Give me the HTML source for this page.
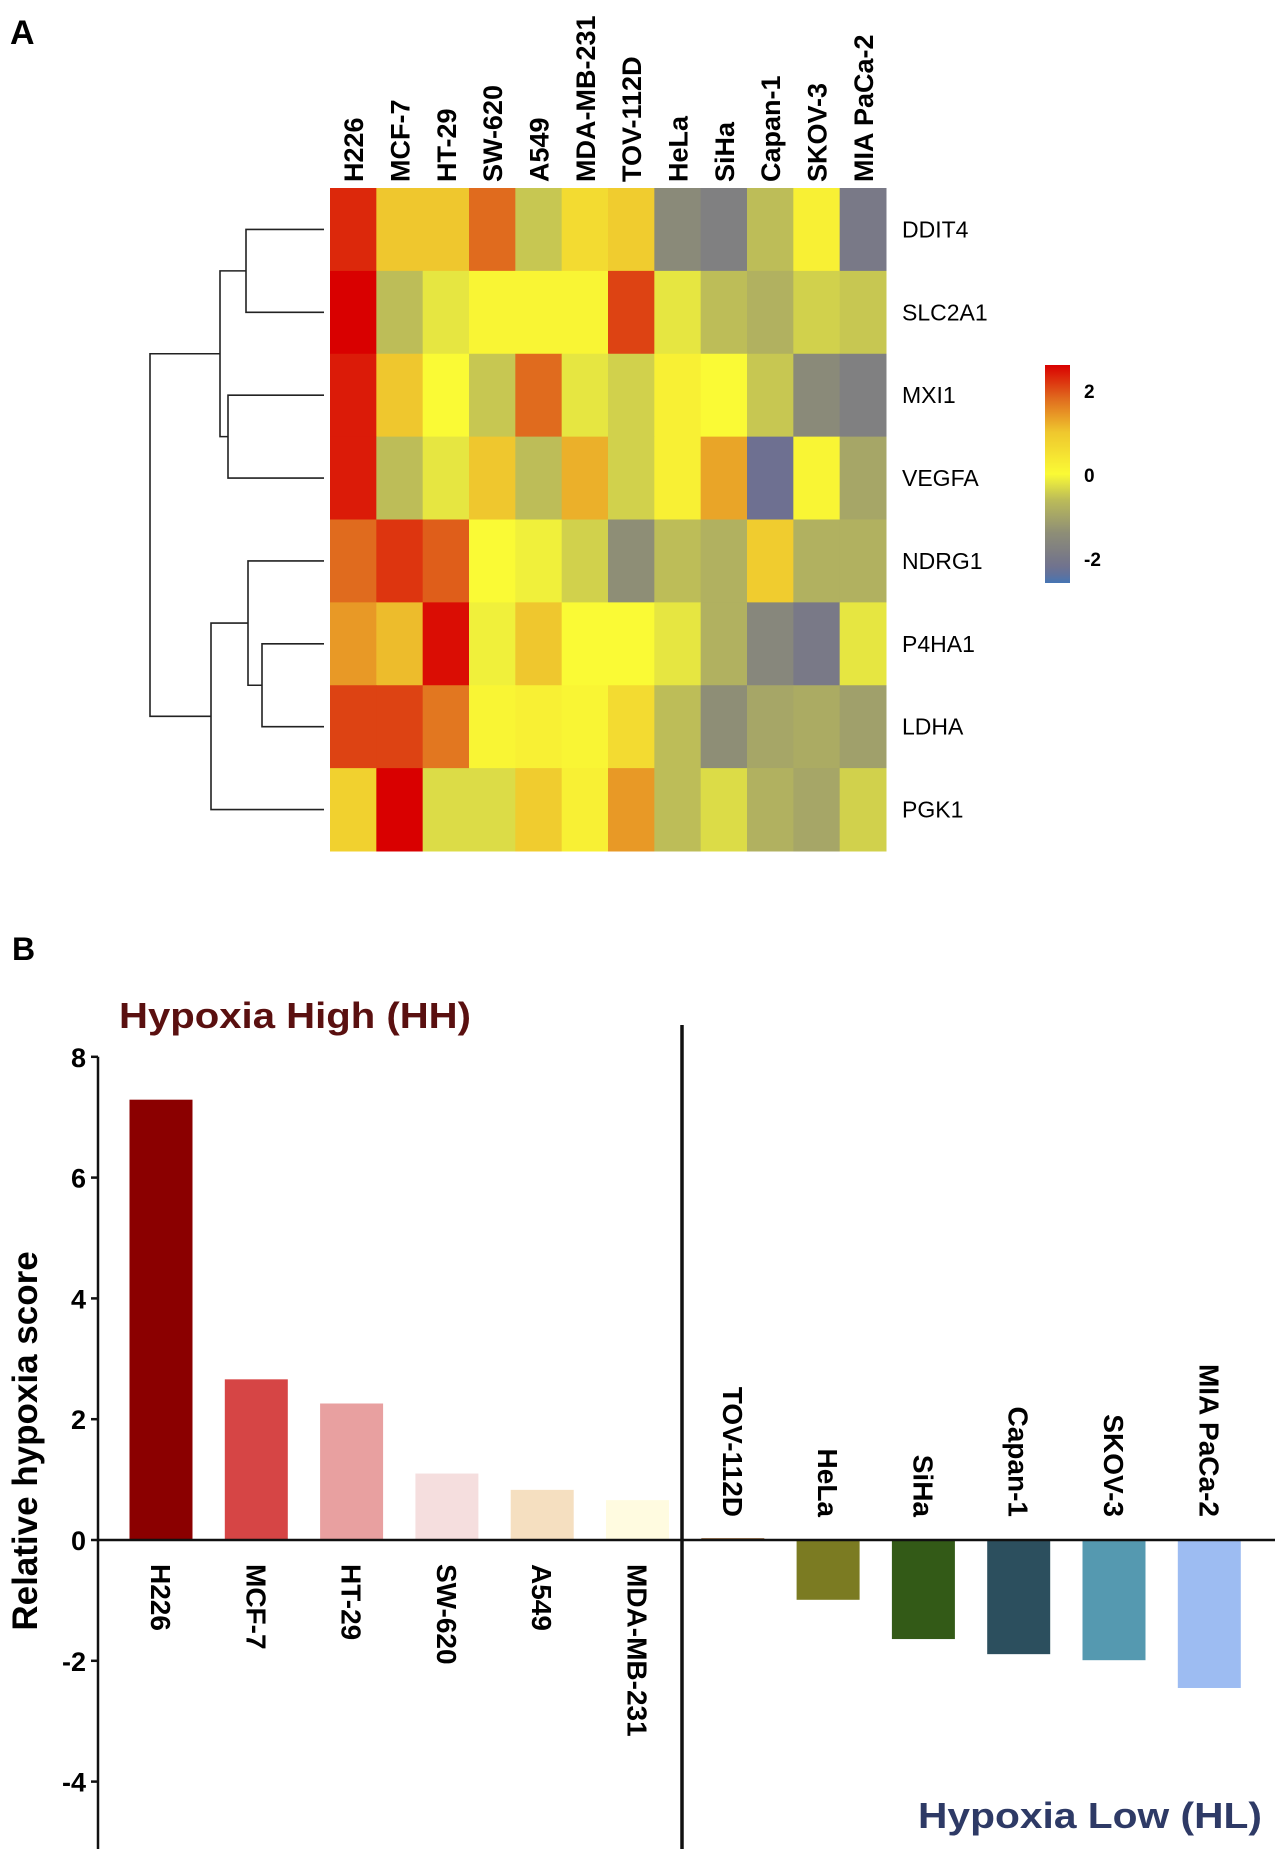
<!DOCTYPE html>
<html><head><meta charset="utf-8"><style>
html,body{margin:0;padding:0;background:#fff;}
svg{display:block;font-family:"Liberation Sans",Arial,sans-serif;}
</style></head><body>
<svg id="fig" width="1279" height="1849" viewBox="0 0 1279 1849">
<text x="10" y="44" font-size="34" font-weight="bold">A</text>
<g id="heat"></g>
<g id="dendro" stroke="#222" stroke-width="1.6" fill="none"></g>
<g id="cbar"></g>
<text x="12" y="960" font-size="32" font-weight="bold">B</text>
<g id="bars"></g>
</svg>
<script>
const cellLines=["H226","MCF-7","HT-29","SW-620","A549","MDA-MB-231","TOV-112D","HeLa","SiHa","Capan-1","SKOV-3","MIA PaCa-2"];
const genes=["DDIT4","SLC2A1","MXI1","VEGFA","NDRG1","P4HA1","LDHA","PGK1"];
const heatDDIT4=[2.3,1.0,1.0,1.8,-0.5,0.6,0.9,-1.5,-1.8,-0.6,0.2,-2.0];
const heatSLC2A1=[2.6,-0.6,-0.2,0.1,0.1,0.1,2.1,-0.2,-0.6,-0.8,-0.4,-0.5];
const heatMXI1=[2.4,1.0,0.0,-0.5,1.8,-0.2,-0.4,0.2,0.0,-0.5,-1.5,-1.8];
const heatVEGFA=[2.4,-0.6,-0.2,1.0,-0.6,1.2,-0.4,0.2,1.3,-2.3,0.1,-1.0];
const heatNDRG1=[1.8,2.2,1.9,0.0,-0.1,-0.4,-1.4,-0.6,-0.8,0.9,-0.8,-0.8];
const heatP4HA1=[1.4,1.1,2.5,-0.1,1.0,0.0,0.0,-0.2,-0.8,-1.6,-2.0,-0.2];
const heatLDHA=[2.1,2.1,1.7,0.1,0.2,0.1,0.6,-0.6,-1.4,-1.0,-0.9,-1.1];
const heatPGK1=[0.8,2.6,-0.3,-0.3,0.9,0.2,1.4,-0.6,-0.3,-0.8,-1.0,-0.4];
const heatRows=[heatDDIT4,heatSLC2A1,heatMXI1,heatVEGFA,heatNDRG1,heatP4HA1,heatLDHA,heatPGK1];
const colorTicks=[2,0,-2];
const barCats=["H226","MCF-7","HT-29","SW-620","A549","MDA-MB-231","TOV-112D","HeLa","SiHa","Capan-1","SKOV-3","MIA PaCa-2"];
const barValues=[7.29,2.66,2.26,1.10,0.83,0.66,0.03,-0.99,-1.64,-1.89,-1.99,-2.45];
const barColors=["#8b0000","#d64545","#e8a0a0","#f5dede","#f5dfc0","#fffbe0","#8b5a2b","#7b7b22","#335a17","#2c4f5e","#5599b0","#9dbcf2"];
const yTicks=[8,6,4,2,0,-2,-4];

const NS="http://www.w3.org/2000/svg";
function mk(tag,attrs,parent,txt){const e=document.createElementNS(NS,tag);for(const k in attrs)e.setAttribute(k,attrs[k]);if(txt!==undefined)e.textContent=txt;parent.appendChild(e);return e;}
const stops=[[-2.6,[69,117,180]],[-2.3,[110,112,145]],[-1.9,[124,124,132]],[-1.4,[142,142,118]],[-0.6,[189,189,88]],[0,[250,250,53]],[1,[239,199,46]],[1.8,[224,107,30]],[2.6,[217,0,0]]];
function col(v){if(v<=stops[0][0])return rgb(stops[0][1]);for(let i=1;i<stops.length;i++){if(v<=stops[i][0]){const a=stops[i-1],b=stops[i];const t=(v-a[0])/(b[0]-a[0]);return rgb(a[1].map((c,j)=>c+(b[1][j]-c)*t));}}return rgb(stops[stops.length-1][1]);}
function rgb(c){return "rgb("+c.map(x=>Math.round(x)).join(",")+")";}

const hx0=330,hx1=886,hy0=188,hy1=851;
const cw=(hx1-hx0)/cellLines.length,rh=(hy1-hy0)/genes.length;
const heat=document.getElementById('heat');
heatRows.forEach((row,r)=>{row.forEach((v,c)=>{
 const e=mk('rect',{x:hx0+c*cw,y:hy0+r*rh,width:cw+0.5,height:rh+0.5,fill:col(v)},heat);
 
 
});});
cellLines.forEach((n,c)=>{const x=hx0+c*cw+cw/2+10;
 const t=mk('text',{x:x,y:182,transform:'rotate(-90 '+x+' 182)','font-size':27,'font-weight':'bold'},heat,n);
 
 });
genes.forEach((g,r)=>{const t=mk('text',{x:902,y:hy0+r*rh+rh/2+8,'font-size':23},heat,g);
 
 });

const dg=document.getElementById('dendro');
const rc=i=>hy0+i*rh+rh/2;const leafX=324;
function link(x,y1,y2,xa,xb){mk('path',{d:`M${xa},${y1}H${x}V${y2}H${xb}`},dg);}
const yA=(rc(0)+rc(1))/2,yB=(rc(2)+rc(3))/2,yC=(rc(5)+rc(6))/2,yD=(rc(4)+yC)/2,yE=(yD+rc(7))/2;
link(246,rc(0),rc(1),leafX,leafX);
link(228,rc(2),rc(3),leafX,leafX);
link(220,yA,yB,246,228);
link(262,rc(5),rc(6),leafX,leafX);
link(248,rc(4),yC,leafX,262);
link(211,yD,rc(7),248,leafX);
link(150,(yA+yB)/2,yE,220,211);

const cb=document.getElementById('cbar');
const defs=mk('defs',{},cb);const lg=mk('linearGradient',{id:'cg',x1:0,y1:0,x2:0,y2:1},defs);
const cbTop=365,cbBot=583,vTop=2.6,vBot=-2.6;
for(let i=0;i<=26;i++){const v=vTop+(vBot-vTop)*i/26;mk('stop',{offset:(i/26),'stop-color':col(v)},lg);}
mk('rect',{x:1045,y:cbTop,width:25,height:cbBot-cbTop,fill:'url(#cg)'},cb);
const cy=v=>cbTop+(vTop-v)/(vTop-vBot)*(cbBot-cbTop);
colorTicks.forEach(v=>{const t=mk('text',{x:1084,y:cy(v)+8,'font-size':19,'font-weight':'bold'},cb,String(v));
 
 });

const bg=document.getElementById('bars');
const y0=1540,ppu=60.4,ax=98;
const Y=v=>y0-v*ppu;
const X=i=>161+i*95.3;
barValues.forEach((v,i)=>{const e=mk('rect',{x:X(i)-31.5,y:Math.min(Y(v),y0),width:63,height:Math.max(Math.abs(Y(v)-y0),1.5),fill:barColors[i]},bg);
 
 });
mk('line',{x1:ax,y1:Y(8),x2:ax,y2:1849,stroke:'#111','stroke-width':2.5},bg);
mk('line',{x1:ax,y1:y0,x2:1275,y2:y0,stroke:'#111','stroke-width':2.5},bg);
mk('line',{x1:682,y1:1025,x2:682,y2:1849,stroke:'#111','stroke-width':3.5},bg);
yTicks.forEach(v=>{mk('line',{x1:ax-7,y1:Y(v),x2:ax,y2:Y(v),stroke:'#111','stroke-width':2.5},bg);
 const t=mk('text',{x:ax-12,y:Y(v)+10,'font-size':27,'font-weight':'bold','text-anchor':'end'},bg,String(v));
 
 });
const yt=mk('text',{x:37,y:1441,transform:'rotate(-90 37 1441)','font-size':35,'font-weight':'bold','text-anchor':'middle'},bg,'Relative hypoxia score');


barCats.forEach((n,i)=>{const x=X(i)-10;const pos=barValues[i]>0.3;
 const yy=pos?1564:1517;
 const t=mk('text',{x:x,y:yy,transform:'rotate(90 '+x+' '+yy+')','font-size':28,'font-weight':'bold','text-anchor':pos?'start':'end'},bg,n);
 
 });
const t1=mk('text',{x:119,y:1028,'font-size':36,'font-weight':'bold',fill:'#5a1010',textLength:352,lengthAdjust:'spacingAndGlyphs'},bg,'Hypoxia High (HH)');


const t2=mk('text',{x:918,y:1828,'font-size':36,'font-weight':'bold',fill:'#2e3a66',textLength:344,lengthAdjust:'spacingAndGlyphs'},bg,'Hypoxia Low (HL)');


</script>
</body></html>
